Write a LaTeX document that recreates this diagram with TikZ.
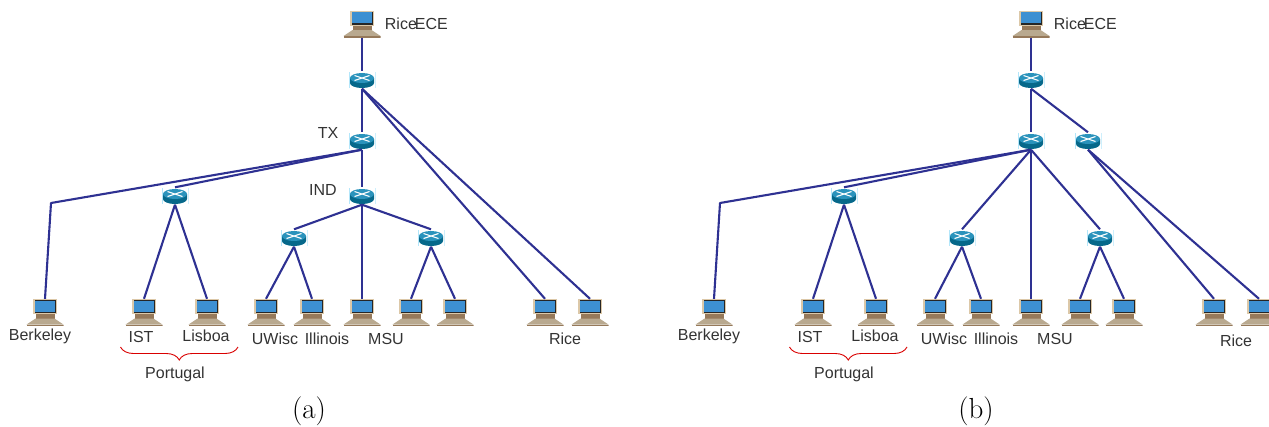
\documentclass[tikz,border=0pt]{standalone}
\usepackage{fontspec}
\setsansfont{Liberation Sans}
\usetikzlibrary{positioning, decorations.pathreplacing}
\definecolor{linkblue}{HTML}{2E3192}
\definecolor{labelgray}{HTML}{333333}
\definecolor{framebrown}{HTML}{DCC8A8}
\definecolor{basebrown}{HTML}{96795A}
\definecolor{keybrown}{HTML}{B9A98F}
\definecolor{screenblue}{HTML}{3D90D2}
\definecolor{routertop}{HTML}{2A93BC}
\definecolor{routerside}{HTML}{06688A}

\begin{document}
\begin{tikzpicture}[
        x=1pt, y=-1pt,
        laptop/.style={rectangle, inner sep=0pt, minimum width=37pt, minimum height=27pt, path picture={
            \begin{scope}[shift={(path picture bounding box.center)}]
                \fill[framebrown] (-12,-13.5) rectangle (12,1.5);
                \fill[black!85] (-10.5,-12.5) rectangle (10.5,0.5);
                \fill[screenblue] (-9.7,-11.7) rectangle (9.7,-0.6);
                \fill[basebrown] (-9.5,1.5) rectangle (9.5,6);
                \fill[keybrown] (-9.5,6) -- (9.5,6) -- (18.5,12) -- (-18.5,12) -- cycle;
                \fill[basebrown] (-18.5,12) rectangle (18.5,13.5);
            \end{scope}}},
        router/.style={rectangle, inner sep=0pt, minimum width=27pt, minimum height=17pt, path picture={
            \begin{scope}[shift={(path picture bounding box.center)}]
                \draw[cyan!30, line width=0.6pt] (-13,-8) -- (-13,8) (13,-8) -- (13,8);
                \fill[routerside] (-12,-2) -- (-12,3) arc[start angle=180, end angle=360, x radius=12, y radius=-5] -- (12,-2) -- cycle;
                \fill[routertop] (0,-2) ellipse[x radius=12, y radius=5];
                \draw[white, line width=1.1pt] (-7.5,-4.5) -- (7.5,0.5) (-7.5,0.5) -- (7.5,-4.5);
            \end{scope}}},
        link/.style={draw=linkblue, line width=2.1pt, line join=round},
        label/.style={font=\sffamily\fontsize{16}{18}\selectfont, text=labelgray, inner sep=0pt},
        caption/.style={font=\fontsize{29}{32}\selectfont, inner sep=0pt}
    ]
    \useasboundingbox (0,0) rectangle (1269,426);

    % Nodes - same layout in both panels
    \foreach \p/\dx in {a/0, b/669} {
        \begin{scope}[xshift=\dx pt]
            \node[laptop] (\p_top) at (362,24) {};
            \node[router] (\p_gw) at (362,80) {};
            \node[router] (\p_tx) at (362,141) {};
            \node[router] (\p_eu) at (175,196) {};
            \coordinate (\p_bend) at (51,203);

            \foreach \name/\xpos in {berkeley/45, ist/144, lisboa/207, uwisc/266, illinois/312, msu/362, msuA/411, msuB/455, riceA/545, riceB/590} {
                \node[laptop] (\p_\name) at (\xpos,312.5) {};
            }

            % Labels
            \node[label, right=4pt of \p_top, yshift=0.5pt] (\p_toplabel) {Rice\kern-2pt ECE};
            \node[label] (\p_lberkeley) at (40,336) {Berkeley};
            \node[label] (\p_list) at (141,337) {IST};
            \node[label] (\p_llisboa) at (206,336) {Lisboa};
            \node[label] (\p_luwisc) at (275,339) {UWisc};
            \node[label] (\p_lillinois) at (327,339) {Illinois};
            \node[label] (\p_lmsu) at (386,339) {MSU};
            \node[label] (\p_lportugal) at (175,374) {Portugal};

            % Brace under IST and Lisboa
            \coordinate (\p_braceL) at (120.5,347);
            \coordinate (\p_braceR) at (238,347);
            \draw[red!85!black, decorate, decoration={brace, mirror, amplitude=13pt}, line width=0.9pt] (\p_braceL) -- (\p_braceR);
        \end{scope}
    }

    % Routers and labels that differ
    \node[router] (a_ind) at (362,196) {};
    \node[router] (a_left) at (294,238) {};
    \node[router] (a_right) at (431,238) {};
    \node[label] (a_ltx) at (328,133) {TX};
    \node[label] (a_lind) at (323,190) {IND};
    \node[label] (a_lrice) at (565,339) {Rice};
    \node[caption] (a_cap) at (309,411) {(a)};

    \node[router] (b_rice) at (1088,141) {};
    \node[router] (b_left) at (962,238) {};
    \node[router] (b_right) at (1100,238) {};
    \node[label] (b_lrice) at (1236,341) {Rice};
    \node[caption] (b_cap) at (976,411) {(b)};

    % Connections - panel (a)
    \draw[link] (a_top.south) -- (a_gw.north);
    \draw[link] (a_gw.south) -- (a_tx.north);
    \draw[link] (a_tx.south) -- (a_ind.north);
    \draw[link] (a_gw.south) -- (a_riceA.north);
    \draw[link] (a_gw.south) -- (a_riceB.north);
    \draw[link] (a_tx.south) -- (a_bend) -- (a_berkeley.north);
    \draw[link] (a_tx.south) -- (a_eu.north);
    \draw[link] (a_eu.south) -- (a_ist.north);
    \draw[link] (a_eu.south) -- (a_lisboa.north);
    \draw[link] (a_ind.south) -- (a_left.north);
    \draw[link] (a_ind.south) -- (a_right.north);
    \draw[link] (a_ind.south) -- (a_msu.north);
    \draw[link] (a_left.south) -- (a_uwisc.north);
    \draw[link] (a_left.south) -- (a_illinois.north);
    \draw[link] (a_right.south) -- (a_msuA.north);
    \draw[link] (a_right.south) -- (a_msuB.north);

    % Connections - panel (b)
    \draw[link] (b_top.south) -- (b_gw.north);
    \draw[link] (b_gw.south) -- (b_tx.north);
    \draw[link] (b_gw.south) -- (b_rice.north);
    \draw[link] (b_rice.south) -- (b_riceA.north);
    \draw[link] (b_rice.south) -- (b_riceB.north);
    \draw[link] (b_tx.south) -- (b_bend) -- (b_berkeley.north);
    \draw[link] (b_tx.south) -- (b_eu.north);
    \draw[link] (b_tx.south) -- (b_left.north);
    \draw[link] (b_tx.south) -- (b_msu.north);
    \draw[link] (b_tx.south) -- (b_right.north);
    \draw[link] (b_eu.south) -- (b_ist.north);
    \draw[link] (b_eu.south) -- (b_lisboa.north);
    \draw[link] (b_left.south) -- (b_uwisc.north);
    \draw[link] (b_left.south) -- (b_illinois.north);
    \draw[link] (b_right.south) -- (b_msuA.north);
    \draw[link] (b_right.south) -- (b_msuB.north);
\end{tikzpicture}
\end{document}
